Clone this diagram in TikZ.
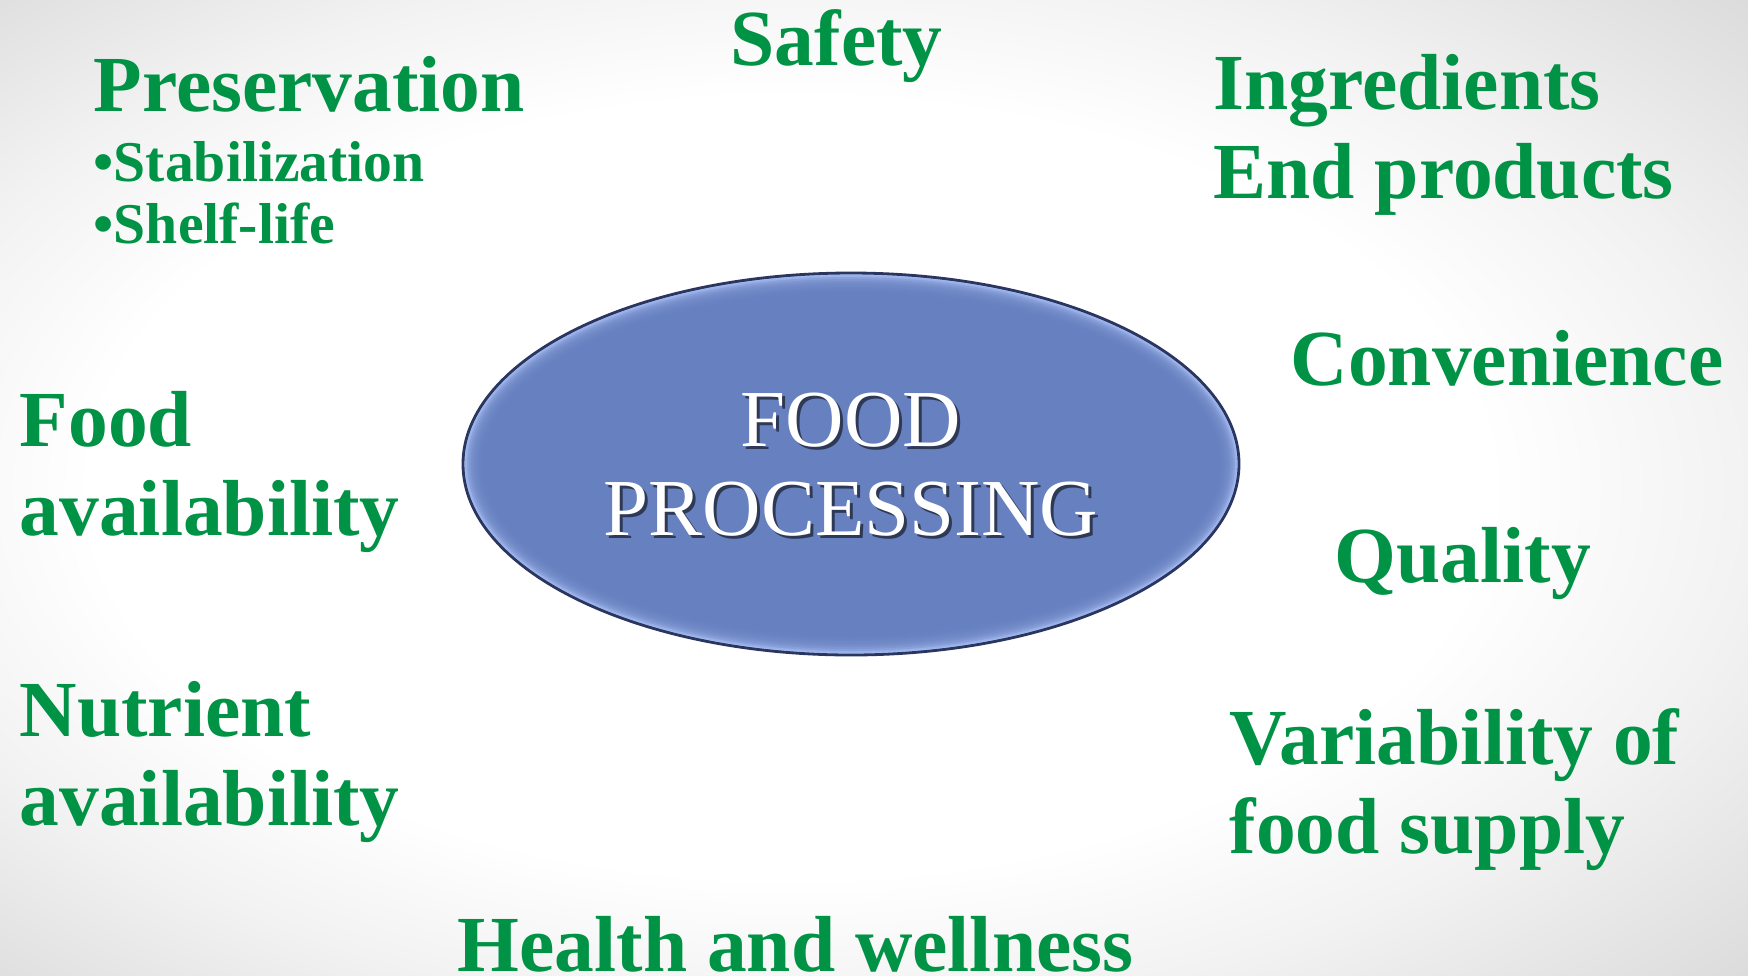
\documentclass[tikz,border=0pt]{standalone}
\usepackage{fontspec}
\setmainfont{Liberation Serif}

\definecolor{txtgreen}{RGB}{0,146,69}
\definecolor{ovalfill}{RGB}{103,128,192}
\definecolor{ovallight}{RGB}{176,198,250}
\definecolor{ovaldark}{RGB}{42,54,96}
\definecolor{bgmid}{RGB}{242,242,242}
\definecolor{bgedge}{RGB}{220,220,220}
\definecolor{bgcorner}{RGB}{212,212,212}

% slide background: white centre fading to light grey at the edges
\pgfdeclareradialshading{slidebg}{\pgfpoint{-4bp}{0bp}}{%
  color(0bp)=(white); color(20bp)=(white); color(27bp)=(bgmid);
  color(36bp)=(bgedge); color(50bp)=(bgcorner)}

\tikzset{
  bigtxt/.style={text=txtgreen, inner sep=0pt, anchor=base west,
    font=\fontsize{22.6}{26}\selectfont\bfseries},
  smalltxt/.style={text=txtgreen, inner sep=0pt, anchor=base west,
    font=\fontsize{16.4}{19}\selectfont\bfseries},
  centertxt/.style={text=white, inner sep=0pt, anchor=base,
    font=\fontsize{23}{27}\selectfont},
  centershadow/.style={text=black, opacity=0.55, inner sep=0pt, anchor=base,
    font=\fontsize{23}{27}\selectfont},
}

\begin{document}
\begin{tikzpicture}[x=0.01cm, y=-0.01cm]
  % background
  \shade[shading=slidebg] (0,0) rectangle (1748,975);
  \useasboundingbox (0,0) rectangle (1748,975);

  % central bevelled oval
  \coordinate (c) at (851,464);
  \begin{scope}
    \clip (c) ellipse [x radius=388, y radius=191];
    \fill[ovaldark] (c) ellipse [x radius=388, y radius=191];
    \fill[ovallight, shift={(-7,-7)}] (c) ellipse [x radius=388, y radius=191];
    \foreach \k in {0,...,11}
      \fill[ovalfill, opacity=0.3] (c) ellipse
        [x radius={386-2*\k}, y radius={189-2*\k}];
  \end{scope}
  \draw[ovaldark, line width=0.8pt] (c) ellipse [x radius=388, y radius=191];

  % centre title with drop shadow
  \node[centershadow] (foodsh) at (854,449) {FOOD};
  \node[centershadow] (procsh) at (854,538) {PROCESSING};
  \node[centertxt] (food) at (851,446) {FOOD};
  \node[centertxt] (proc) at (851,535) {PROCESSING};

  % surrounding aspects
  \node[bigtxt] (pres) at (93,111) {Preservation};
  \node[smalltxt] (stab) at (93,181) {\textbullet Stabilization};
  \node[smalltxt] (shelf) at (93,243) {\textbullet Shelf-life};

  \node[bigtxt] (safety) at (730,65) {Safety};

  \node[bigtxt] (ingr) at (1213,109) {Ingredients};
  \node[bigtxt] (endp) at (1213,198) {End products};

  \node[bigtxt] (conv) at (1290,385) {Convenience};

  \node[bigtxt] (fooda) at (19,446) {Food};
  \node[bigtxt] (fooda2) at (19,535) {availability};

  \node[bigtxt] (qual) at (1334,582) {Quality};

  \node[bigtxt] (nutr) at (19,736) {Nutrient};
  \node[bigtxt] (nutr2) at (19,825) {availability};

  \node[bigtxt] (var) at (1229,764) {Variability of};
  \node[bigtxt] (var2) at (1229,853) {food supply};

  \node[bigtxt] (health) at (457,971) {Health and wellness};
\end{tikzpicture}
\end{document}
